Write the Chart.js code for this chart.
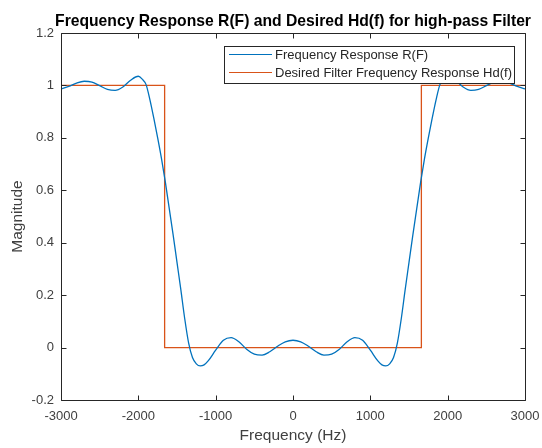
<!DOCTYPE html>
<html>
<head>
<meta charset="utf-8">
<script src="https://cdn.jsdelivr.net/npm/chart.js@4.4.1/dist/chart.umd.min.js"></script>
<style>
  html, body { margin: 0; padding: 0; background: #fff; }
  #wrap { width: 542px; height: 448px; }
</style>
</head>
<body>
<div id="wrap"><canvas id="chart" width="542" height="448"></canvas></div>
<script>
// frecuencias (Hz) y respuesta R(F) del filtro
const freqHz = [
  -3000, -2900, -2800, -2700, -2600, -2500, -2400, -2300, -2200, -2100,
  -2000, -1950, -1900, -1850, -1800, -1750, -1700, -1650, -1600, -1550,
  -1500, -1450, -1400, -1350, -1300, -1250, -1200, -1150, -1100, -1000,
  -900, -800, -700, -600, -500, -400, -300, -200, -100, 0,
  100, 200, 300, 400, 500, 600, 700, 800, 900, 1000,
  1100, 1150, 1200, 1250, 1300, 1350, 1400, 1450, 1500, 1550,
  1600, 1650, 1700, 1750, 1800, 1850, 1900, 1950, 2000, 2100,
  2200, 2300, 2400, 2500, 2600, 2700, 2800, 2900, 3000
];
const responseR = [
  0.987, 0.996, 1.009, 1.016, 1.013, 0.999, 0.985, 0.981, 0.994, 1.020,
  1.035, 1.024, 1.003, 0.945, 0.875, 0.800, 0.720, 0.630, 0.530, 0.430,
  0.325, 0.220, 0.110, 0.018, -0.038, -0.062, -0.070, -0.066, -0.052, -0.010,
  0.028, 0.038, 0.022, -0.006, -0.025, -0.029, -0.016, 0.005, 0.022, 0.028,
  0.022, 0.005, -0.016, -0.029, -0.025, -0.006, 0.022, 0.038, 0.028, -0.010,
  -0.052, -0.066, -0.070, -0.062, -0.038, 0.018, 0.110, 0.220, 0.325, 0.430,
  0.530, 0.630, 0.720, 0.800, 0.875, 0.945, 1.003, 1.024, 1.035, 1.020,
  0.994, 0.981, 0.985, 0.999, 1.013, 1.016, 1.009, 0.996, 0.987
];

// respuesta deseada Hd(f): escalones en el corte
const desiredFreq = [-3000, -1660, 1660, 3000];
const desiredHd = [1, 0, 1, 1];

const xTickValues = [-3000, -2000, -1000, 0, 1000, 2000, 3000];
const yTickValues = [-0.2, 0, 0.2, 0.4, 0.6, 0.8, 1, 1.2];

const chartTitle = 'Frequency Response R(F) and Desired Hd(f) for high-pass Filter';

const FONT = "'Liberation Sans', Arial, Helvetica, sans-serif";
const AXIS_COLOR = '#262626';
const TEXT_COLOR = '#404040';

const toPoints = (xs, ys) => xs.map((x, i) => ({ x: x, y: ys[i] }));

// caja de ejes estilo MATLAB con ticks hacia adentro, título centrado sobre el área y leyenda
const boxPlugin = {
  id: 'boxPlugin',
  afterDatasetsDraw(chart) {
    const { ctx, chartArea: a, scales } = chart;
    const L = Math.round(a.left) + 0.5, R = Math.round(a.right) + 0.5;
    const T = Math.round(a.top) + 0.5, B = Math.round(a.bottom) + 0.5;
    const tick = 5;
    ctx.save();
    ctx.strokeStyle = AXIS_COLOR;
    ctx.lineWidth = 1;
    ctx.beginPath();
    ctx.rect(L, T, R - L, B - T);
    scales.x.ticks.forEach(t => {
      const px = Math.round(scales.x.getPixelForValue(t.value)) + 0.5;
      ctx.moveTo(px, B); ctx.lineTo(px, B - tick);
      ctx.moveTo(px, T); ctx.lineTo(px, T + tick);
    });
    scales.y.ticks.forEach(t => {
      const py = Math.round(scales.y.getPixelForValue(t.value)) + 0.5;
      ctx.moveTo(L, py); ctx.lineTo(L + tick, py);
      ctx.moveTo(R, py); ctx.lineTo(R - tick, py);
    });
    ctx.stroke();

    // título
    ctx.fillStyle = '#000';
    ctx.font = 'bold 15.7px ' + FONT;
    ctx.textAlign = 'center';
    ctx.textBaseline = 'alphabetic';
    ctx.fillText(chartTitle, (a.left + a.right) / 2, 26);

    // leyenda
    const lx = 224.5, ly = 46.5, lw = 290, lh = 37;
    ctx.fillStyle = '#fff';
    ctx.fillRect(lx, ly, lw, lh);
    ctx.strokeRect(lx, ly, lw, lh);
    ctx.font = '13px ' + FONT;
    ctx.textAlign = 'left';
    ctx.textBaseline = 'middle';
    chart.data.datasets.forEach((ds, i) => {
      const y = 54.5 + i * 18;
      ctx.strokeStyle = ds.borderColor;
      ctx.lineWidth = 1;
      ctx.beginPath();
      ctx.moveTo(229, y); ctx.lineTo(272, y);
      ctx.stroke();
      ctx.fillStyle = '#262626';
      ctx.fillText(ds.label, 275, y + 1);
    });
    ctx.restore();
  }
};

const ctx = document.getElementById('chart').getContext('2d');
new Chart(ctx, {
  type: 'line',
  data: {
    datasets: [
      {
        label: 'Frequency Response R(F)',
        data: toPoints(freqHz, responseR),
        borderColor: '#0072BD',
        borderWidth: 1.3,
        pointRadius: 0,
        cubicInterpolationMode: 'monotone',
        fill: false
      },
      {
        label: 'Desired Filter Frequency Response Hd(f)',
        data: toPoints(desiredFreq, desiredHd),
        borderColor: '#D95319',
        borderWidth: 1.3,
        pointRadius: 0,
        stepped: 'before',
        fill: false
      }
    ]
  },
  options: {
    responsive: false,
    animation: false,
    layout: { padding: { left: 0, right: 17, top: 33, bottom: 3 } },
    scales: {
      x: {
        type: 'linear',
        min: -3000,
        max: 3000,
        afterBuildTicks: s => { s.ticks = xTickValues.map(v => ({ value: v })); },
        afterFit: s => { s.height = 45; s.paddingLeft = 0; s.paddingRight = 0; },
        grid: { display: false, drawTicks: false },
        border: { display: false },
        ticks: {
          padding: 9,
          color: TEXT_COLOR,
          font: { family: FONT, size: 13 },
          maxRotation: 0,
          callback: v => String(v)
        },
        title: {
          display: true,
          text: 'Frequency (Hz)',
          color: TEXT_COLOR,
          font: { family: FONT, size: 15.5 },
          padding: { top: 0, bottom: 0 }
        }
      },
      y: {
        type: 'linear',
        min: -0.2,
        max: 1.2,
        afterBuildTicks: s => { s.ticks = yTickValues.map(v => ({ value: v })); },
        afterFit: s => { s.width = 61; },
        grid: { display: false, drawTicks: false },
        border: { display: false },
        ticks: {
          padding: 7,
          color: TEXT_COLOR,
          font: { family: FONT, size: 13 },
          callback: v => String(Math.round(v * 10) / 10)
        },
        title: {
          display: true,
          text: 'Magnitude',
          color: TEXT_COLOR,
          font: { family: FONT, size: 15.5 },
          padding: { top: 8, bottom: 0 }
        }
      }
    },
    plugins: {
      legend: { display: false },
      tooltip: { enabled: false },
      title: { display: false }
    }
  },
  plugins: [boxPlugin]
});
</script>
</body>
</html>
